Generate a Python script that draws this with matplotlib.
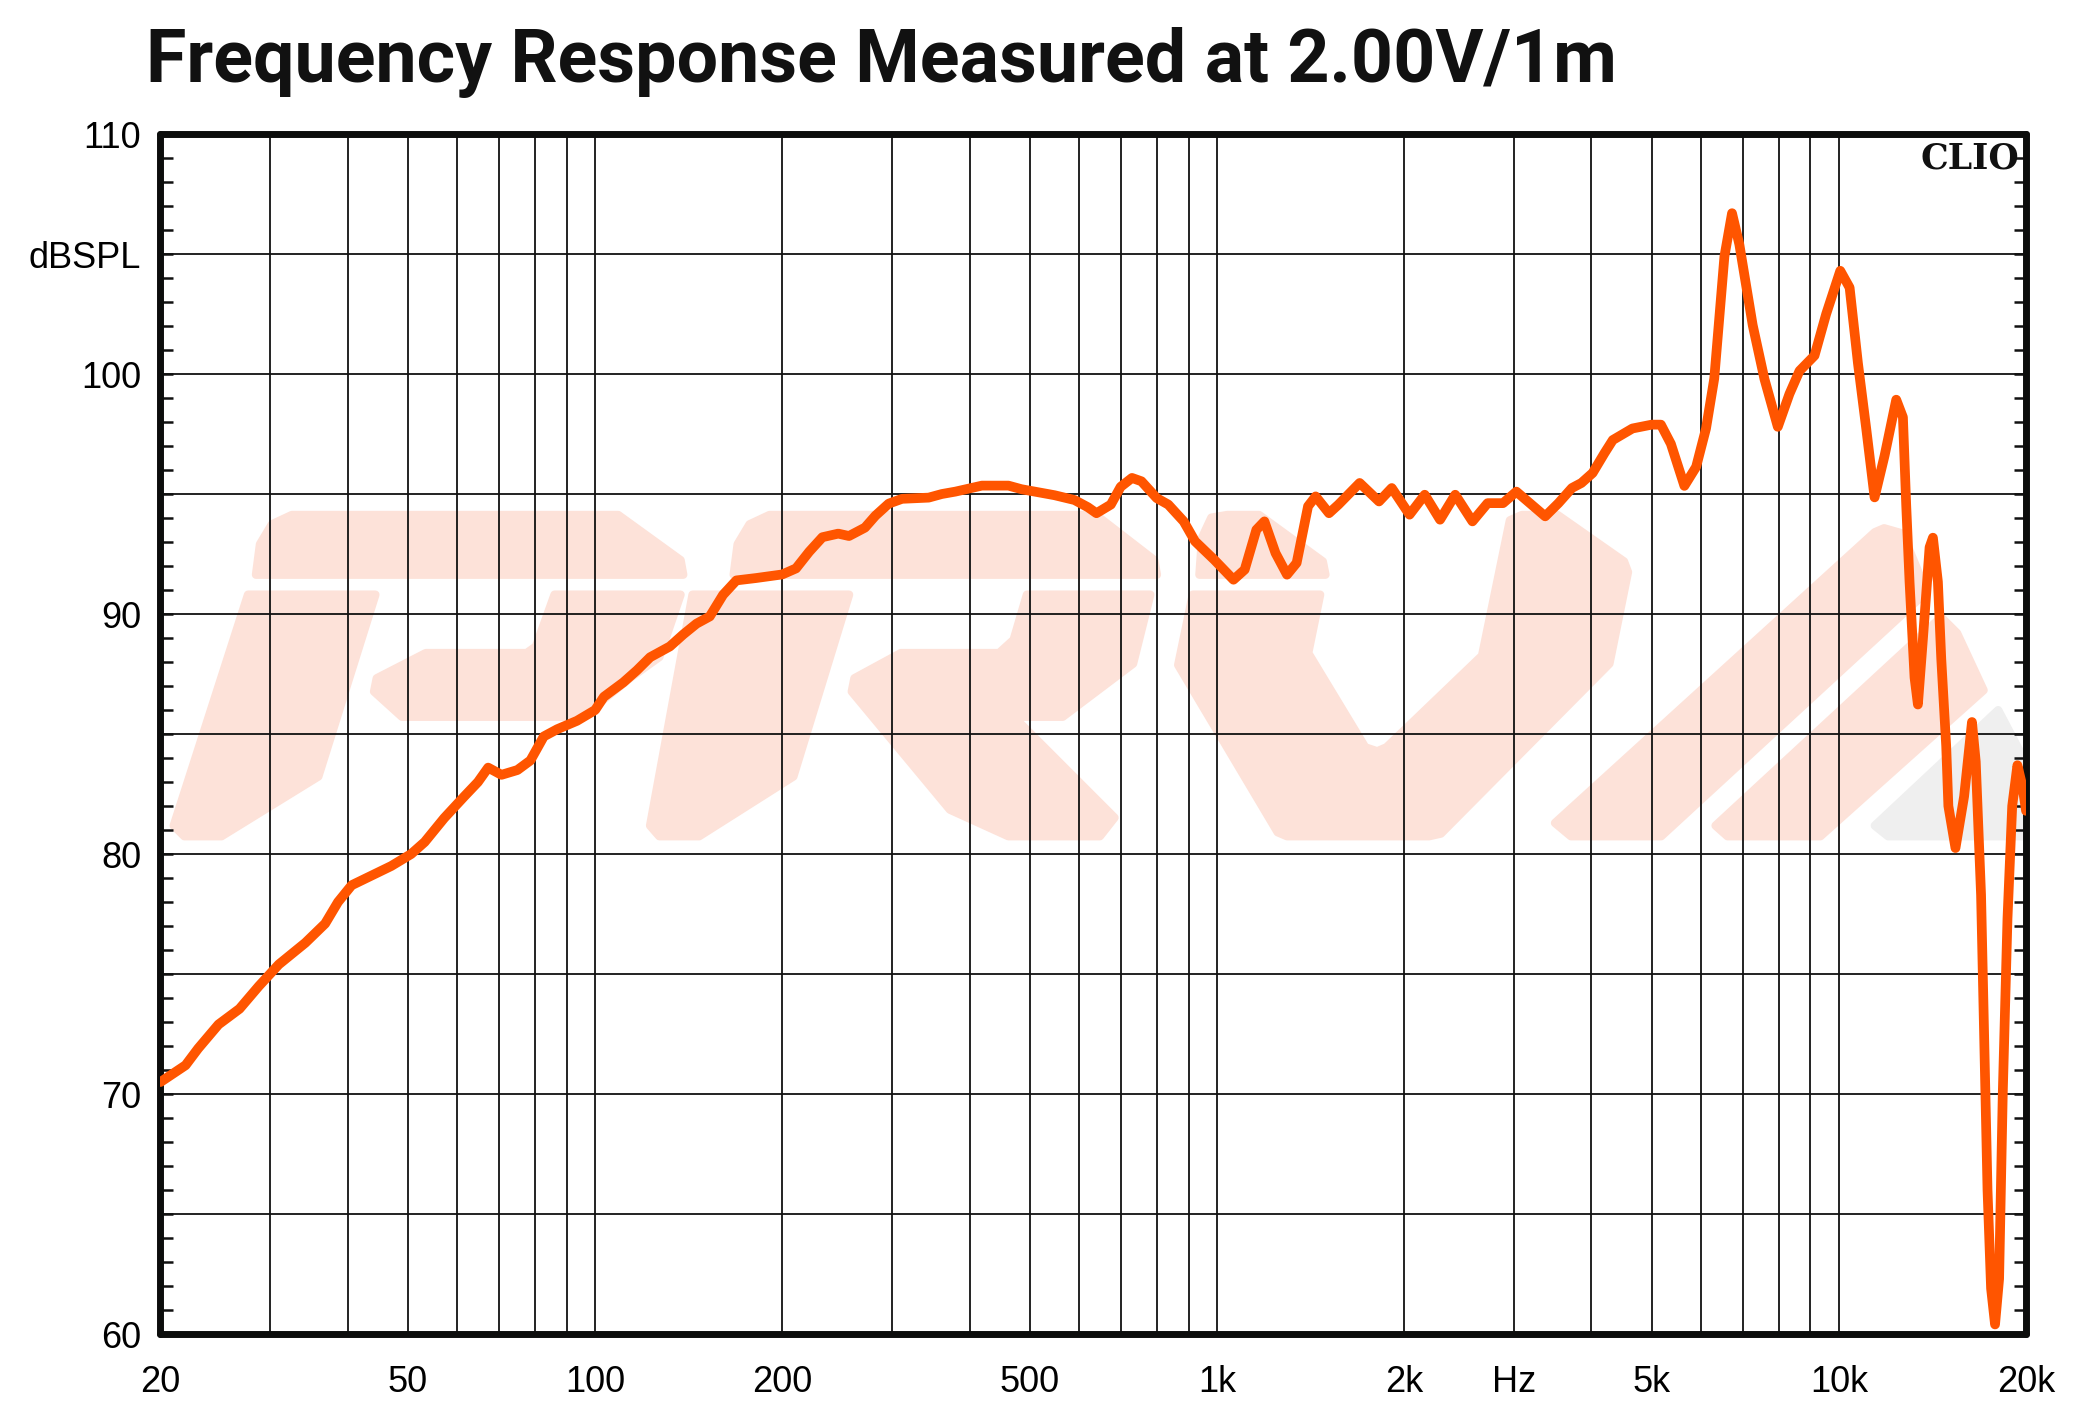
import matplotlib
matplotlib.use("Agg")
import matplotlib.pyplot as plt
from matplotlib.patches import Polygon
from matplotlib.ticker import MultipleLocator, NullFormatter

# frequency response (Hz, dB SPL)
freq = [20, 21.95, 23.0, 24.8, 26.8, 28.8, 31.0, 34.2, 36.8, 38.6, 40.6, 43.7, 47.0,
        50.6, 53.2, 57.2, 61.6, 64.8, 67.3, 70.7, 75.0, 78.7, 82.7, 86.9, 93.5, 100,
        103.3, 111, 116.7, 122.6, 131.9, 138.6, 145.6, 152.9, 160.6, 168.7, 181.6, 200,
        210.4, 221, 232, 246, 256, 271.6, 282.4, 296.6, 311.6, 343.9, 361, 379.6, 418.8,
        462, 485, 509, 548, 590, 620, 640, 675, 700, 730, 756, 800, 835, 884, 922, 990,
        1063, 1108, 1157, 1192, 1242, 1296, 1343, 1401, 1441, 1514, 1568, 1696, 1822,
        1910, 2040, 2158, 2284, 2416, 2575, 2724, 2884, 3030, 3185, 3371, 3541, 3722,
        3855, 4018, 4198, 4330, 4656, 5000, 5174, 5369, 5644, 5895, 6115, 6304, 6546,
        6733, 6918, 7268, 7590, 7977, 8328, 8644, 9139, 9541, 10053, 10406, 10732,
        11066, 11414, 11845, 12367, 12677, 12832, 12992, 13235, 13400, 13650, 13992,
        14166, 14430, 14610, 14880, 15000, 15400, 15900, 16370, 16600, 16930, 17130,
        17340, 17570, 17830, 18100, 18350, 18670, 19000, 19370, 19740, 20000]
spl = [70.5, 71.2, 71.9, 72.9, 73.55, 74.5, 75.4, 76.3, 77.1, 78.0, 78.7, 79.1, 79.5,
       80.0, 80.5, 81.5, 82.4, 83.0, 83.6, 83.3, 83.5, 83.9, 84.9, 85.2, 85.55, 86.0,
       86.55, 87.15, 87.65, 88.2, 88.65, 89.15, 89.6, 89.9, 90.8, 91.4, 91.5, 91.65,
       91.9, 92.6, 93.2, 93.35, 93.25, 93.6, 94.1, 94.6, 94.8, 94.85, 95.0, 95.1, 95.35,
       95.35, 95.2, 95.1, 94.95, 94.75, 94.45, 94.2, 94.56, 95.3, 95.67, 95.53, 94.83,
       94.56, 93.86, 93.03, 92.26, 91.43, 91.85, 93.51, 93.86, 92.54, 91.64, 92.13,
       94.49, 94.9, 94.2, 94.56, 95.46, 94.69, 95.25, 94.14, 94.97, 93.93, 94.97, 93.86,
       94.62, 94.62, 95.1, 94.62, 94.07, 94.62, 95.25, 95.46, 95.875, 96.7, 97.25,
       97.73, 97.89, 97.89, 97.09, 95.34, 96.13, 97.73, 99.81, 104.9, 106.7, 105.4,
       102.04, 99.8, 97.8, 99.17, 100.13, 100.77, 102.5, 104.3, 103.6, 100.45, 97.73,
       94.86, 96.6, 98.93, 98.2, 94.54, 91.34, 87.35, 86.23, 88.95, 92.78, 93.18, 91.34,
       88.14, 84.5, 82.0, 80.25, 82.4, 85.5, 83.85, 78.3, 72.2, 66.0, 61.9, 60.4, 62.3,
       70.1, 77.3, 82.0, 83.7, 82.8, 81.8]

x_ticks = [20, 50, 100, 200, 500, 1000, 2000, 3000, 5000, 10000, 20000]
x_labels = ["20", "50", "100", "200", "500", "1k", "2k", "Hz", "5k", "10k", "20k"]
x_minor = [30, 40, 60, 70, 80, 90, 300, 400, 600, 700, 800, 900,
           4000, 6000, 7000, 8000, 9000]
y_ticks = [60, 65, 70, 75, 80, 85, 90, 95, 100, 105, 110]
y_labels = ["60", "", "70", "", "80", "", "90", "", "100", "dBSPL", "110"]

# background logo, outlined in reference pixels (x right, y down)
logo_salmon = [
    [(193, 433), (196, 410), (205, 395), (220, 388), (466, 388), (513, 422), (515, 433)],
    [(187, 448), (283, 448), (240, 585), (167, 630), (139, 630), (131, 622)],
    [(418, 448), (513, 448), (497, 495), (476, 510), (439, 540), (303, 540), (282, 521),
     (284, 511), (321, 492), (397, 492), (404, 487)],
    [(553, 433), (556, 410), (565, 395), (580, 388), (826, 388), (870, 422), (872, 433)],
    [(522, 448), (640, 448), (598, 585), (527, 630), (497, 630), (490, 622)],
    [(774, 448), (867, 448), (854, 500), (801, 540), (764, 540), (840, 616), (829, 630),
     (760, 630), (716, 610), (642, 521), (644, 511), (679, 492), (753, 492), (764, 482)],
    [(904, 433), (906, 405), (913, 390), (925, 388), (949, 388), (997, 423), (999, 433)],
    [(899, 448), (995, 448), (986, 492), (1029, 563), (1038, 566), (1045, 563),
     (1117, 494), (1138, 392), (1147, 388), (1174, 388), (1224, 423), (1227, 431),
     (1213, 500), (1086, 628), (1077, 630), (970, 630), (963, 627), (888, 501)],
    [(1413, 401), (1420, 398), (1434, 402), (1452, 446), (1252, 630), (1184, 630), (1172, 620)],
    [(1463, 465), (1475, 477), (1495, 520), (1372, 630), (1302, 630), (1293, 622)],
]
logo_gray = [[(1413, 622), (1423, 630), (1527, 630), (1527, 575), (1506, 535)]]


def to_axes(pts):
    return [((x - 121) / 1406, (1005 - y) / 904) for x, y in pts]


fig = plt.figure(figsize=(20.81, 14.18), dpi=100)
ax = fig.add_axes([0.0771, 0.0592, 0.8965, 0.8463])

for shape in logo_salmon:
    ax.add_patch(Polygon(to_axes(shape), closed=True, transform=ax.transAxes,
                         facecolor="#fde2d9", edgecolor="#fde2d9", lw=6,
                         joinstyle="round", zorder=0.1))
for shape in logo_gray:
    ax.add_patch(Polygon(to_axes(shape), closed=True, transform=ax.transAxes,
                         facecolor="#efefef", edgecolor="#efefef", lw=6,
                         joinstyle="round", zorder=0.1))

ax.semilogx(freq, spl, color="#ff5500", lw=7, solid_joinstyle="round",
            solid_capstyle="round", zorder=3)

ax.set_xlim(20, 20000)
ax.set_ylim(60, 110)
ax.set_xticks(x_ticks)
ax.set_xticklabels(x_labels)
ax.set_xticks(x_minor, minor=True)
ax.xaxis.set_minor_formatter(NullFormatter())
ax.set_yticks(y_ticks)
ax.set_yticklabels(y_labels)
ax.yaxis.set_minor_locator(MultipleLocator(1))

ax.set_axisbelow(True)
ax.grid(True, which="both", axis="x", color="#111111", lw=1.3)
ax.grid(True, which="major", axis="y", color="#111111", lw=1.3)

ax.tick_params(axis="x", which="both", length=0, pad=22, labelsize=26)
ax.tick_params(axis="y", which="both", direction="in", left=True, right=True,
               length=9, width=1.8, color="#111111", pad=14, labelsize=26)
for lbl in ax.get_xticklabels() + ax.get_yticklabels():
    lbl.set_fontfamily("Liberation Sans")

for sp in ax.spines.values():
    sp.set_linewidth(5)
    sp.set_color("#0c0d0c")
    sp.set_capstyle("round")

ax.text(0.9965, 0.98, "CLIO", transform=ax.transAxes, ha="right", va="center",
        fontsize=25, fontweight="bold", family="DejaVu Serif", color="#111111",
        zorder=4)

fig.text(146 / 2081, 1 - 82 / 1418, "Frequency Response Measured at 2.00V/1m",
         ha="left", va="baseline", fontsize=53, fontweight="bold",
         family="Roboto", color="#111111")

fig.savefig("out.png", dpi=100)
